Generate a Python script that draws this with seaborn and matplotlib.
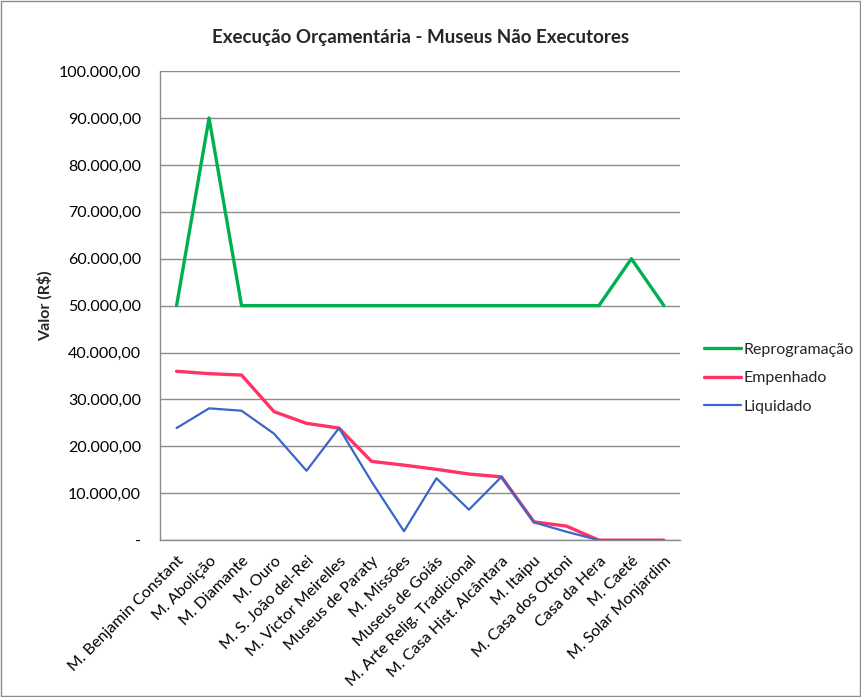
import matplotlib
matplotlib.use("Agg")
import matplotlib.pyplot as plt
import matplotlib.ticker as mticker
import pandas as pd
import seaborn as sns

museus = [
    "M. Benjamin Constant", "M. Abolição", "M. Diamante", "M. Ouro",
    "M. S. João del-Rei", "M. Victor Meirelles", "Museus de Paraty",
    "M. Missões", "Museus de Goiás", "M. Arte Relig. Tradicional",
    "M. Casa Hist. Alcântara", "M. Itaipu", "M. Casa dos Ottoni",
    "Casa da Hera", "M. Caeté", "M. Solar Monjardim",
]
reprogramacao = [50000, 90000, 50000, 50000, 50000, 50000, 50000, 50000,
                 50000, 50000, 50000, 50000, 50000, 50000, 60000, 50000]
empenhado = [36000, 35500, 35200, 27400, 24900, 23900, 16800, 16000,
             15100, 14100, 13500, 3900, 3000, 0, 0, 0]
liquidado = [23900, 28100, 27600, 22700, 14800, 23900, 12500, 1900,
             13200, 6500, 13500, 3800, 1800, 0, 0, 0]

SERIES = ["Reprogramação", "Empenhado", "Liquidado"]
COLORS = {"Reprogramação": "#00B050", "Empenhado": "#FF3366", "Liquidado": "#3A66C8"}
WIDTHS = {"Reprogramação": 2.4, "Empenhado": 2.4, "Liquidado": 1.6}

sns.set_theme(style="white")
plt.rcParams["font.family"] = ["Lato", "DejaVu Sans"]

df = pd.DataFrame({
    "museu": museus,
    "Reprogramação": reprogramacao,
    "Empenhado": empenhado,
    "Liquidado": liquidado,
})
long = df.melt(id_vars="museu", value_vars=SERIES, var_name="serie", value_name="valor")

fig = plt.figure(figsize=(8.62, 6.97), dpi=100)
ax = fig.add_axes([0.186, 0.225, 0.603, 0.673])

for serie in SERIES:
    sub = long[long["serie"] == serie]
    sns.lineplot(data=sub, x="museu", y="valor", ax=ax, color=COLORS[serie],
                 linewidth=WIDTHS[serie], label=serie, sort=False)

ax.set_ylim(0, 100000)
ax.set_xlim(-0.5, len(museus) - 0.5)
ax.yaxis.set_major_locator(mticker.MultipleLocator(10000))


def fmt_brl(v, _pos):
    if v == 0:
        return "-"
    s = f"{v:,.2f}"
    return s.replace(",", "X").replace(".", ",").replace("X", ".")


ax.yaxis.set_major_formatter(mticker.FuncFormatter(fmt_brl))
ax.grid(axis="y", color="#8c8c8c", linewidth=1)
ax.set_axisbelow(True)
for side in ["top", "right"]:
    ax.spines[side].set_visible(False)
for side in ["left", "bottom"]:
    ax.spines[side].set_color("#8c8c8c")
    ax.spines[side].set_linewidth(1)

ax.tick_params(axis="y", labelsize=11.5, colors="black", left=False, pad=8)
ax.tick_params(axis="x", labelsize=11.5, colors="black", bottom=False, pad=4)
plt.setp(ax.get_xticklabels(), rotation=45, ha="right", rotation_mode="anchor")

ax.set_xlabel("")
ax.set_ylabel("Valor (R$)", fontsize=11.5, fontweight="bold", labelpad=4)
ax.set_title("Execução Orçamentária - Museus Não Executores", fontsize=13.5,
             fontweight="bold", pad=20)

ax.legend(loc="center left", bbox_to_anchor=(1.046, 0.345), frameon=False,
          borderaxespad=0, borderpad=0, fontsize=11.5, handlelength=2.3,
          handletextpad=0.15, labelspacing=0.9)

fig.patches.append(plt.Rectangle((0.001, 0.001), 0.997, 0.997, transform=fig.transFigure,
                                 fill=False, edgecolor="#8c8c8c", linewidth=1))

fig.savefig("out.png", dpi=100)
